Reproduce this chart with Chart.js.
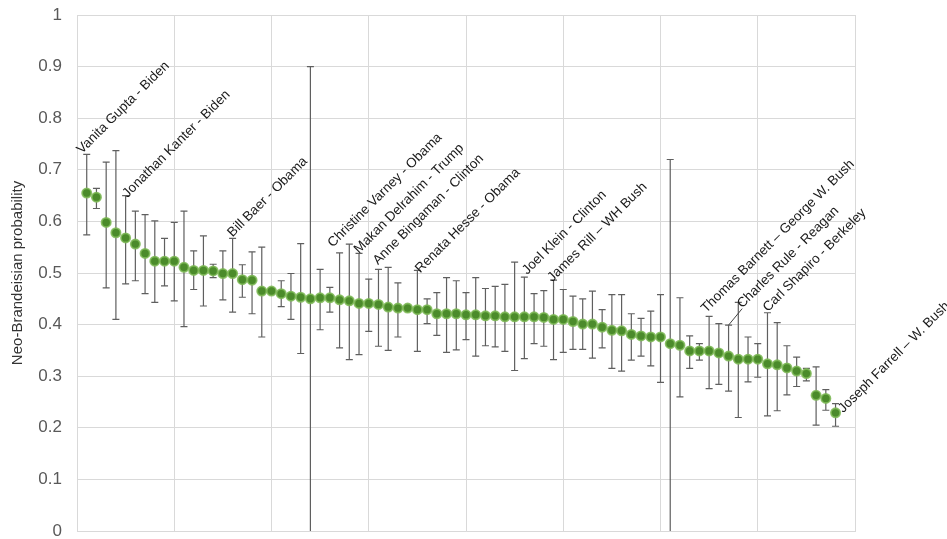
<!DOCTYPE html>
<html>
<head>
<meta charset="utf-8">
<script src="https://cdn.jsdelivr.net/npm/chart.js@4.4.0/dist/chart.umd.min.js"></script>
<style>
  body { margin: 0; background: #fff; }
  #wrap { width: 947px; height: 539px; position: relative; }
</style>
</head>
<body>
<div id="wrap"><canvas id="chart"></canvas></div>
<script>
// значения вероятности (отсортированы по убыванию)
const probValues = [
  0.655, 0.647, 0.598, 0.578, 0.568, 0.556, 0.538, 0.523, 0.523, 0.523,
  0.511, 0.505, 0.505, 0.504, 0.499, 0.499, 0.487, 0.486, 0.465, 0.465,
  0.460, 0.455, 0.453, 0.450, 0.452, 0.452, 0.448, 0.446, 0.441, 0.441,
  0.439, 0.434, 0.432, 0.432, 0.429, 0.429, 0.421, 0.421, 0.421, 0.419,
  0.419, 0.417, 0.417, 0.415, 0.415, 0.415, 0.415, 0.414, 0.410, 0.410,
  0.406, 0.401, 0.401, 0.395, 0.389, 0.388, 0.381, 0.378, 0.376, 0.376,
  0.363, 0.360, 0.349, 0.349, 0.349, 0.345, 0.339, 0.333, 0.333, 0.333,
  0.324, 0.322, 0.316, 0.310, 0.305, 0.263, 0.257, 0.229
];

// верхняя граница планки погрешности
const probUpper = [
  0.730, 0.664, 0.715, 0.737, 0.650, 0.620, 0.613, 0.601, 0.567, 0.598,
  0.620, 0.543, 0.572, 0.517, 0.543, 0.567, 0.516, 0.541, 0.550, 0.465,
  0.485, 0.499, 0.557, 0.900, 0.507, 0.472, 0.539, 0.556, 0.538, 0.488,
  0.507, 0.511, 0.481, 0.432, 0.505, 0.450, 0.462, 0.491, 0.485, 0.462,
  0.491, 0.470, 0.474, 0.478, 0.521, 0.492, 0.460, 0.466, 0.486, 0.468,
  0.455, 0.450, 0.465, 0.429, 0.458, 0.458, 0.421, 0.412, 0.426, 0.458,
  0.720, 0.452, 0.378, 0.363, 0.416, 0.402, 0.399, 0.443, 0.376, 0.363,
  0.423, 0.404, 0.359, 0.337, 0.315, 0.318, 0.274, 0.247
];

// нижняя граница планки погрешности
const probLower = [
  0.574, 0.625, 0.471, 0.410, 0.479, 0.485, 0.460, 0.443, 0.475, 0.446,
  0.396, 0.468, 0.436, 0.491, 0.448, 0.424, 0.453, 0.421, 0.376, 0.465,
  0.435, 0.410, 0.344, 0.000, 0.390, 0.424, 0.355, 0.332, 0.342, 0.387,
  0.358, 0.350, 0.376, 0.432, 0.348, 0.402, 0.379, 0.346, 0.351, 0.371,
  0.339, 0.359, 0.357, 0.348, 0.311, 0.334, 0.363, 0.358, 0.332, 0.346,
  0.352, 0.352, 0.335, 0.355, 0.315, 0.310, 0.331, 0.339, 0.320, 0.288,
  0.000, 0.260, 0.315, 0.331, 0.276, 0.284, 0.271, 0.220, 0.289, 0.298,
  0.223, 0.233, 0.264, 0.280, 0.291, 0.205, 0.234, 0.203
];

const yTickLabels = ['0', '0.1', '0.2', '0.3', '0.4', '0.5', '0.6', '0.7', '0.8', '0.9', '1'];

// подписи к отдельным точкам (начало текста в координатах данных)
const noteNames = [
  'Vanita Gupta - Biden', 'Jonathan Kanter - Biden', 'Bill Baer - Obama',
  'Christine Varney - Obama', 'Makan Delrahim - Trump', 'Anne Bingaman - Clinton',
  'Renata Hesse - Obama', 'Joel Klein - Clinton', 'James Rill \u2013 WH Bush',
  'Thomas Barnett \u2013 George W. Bush', 'Charles Rule - Reagan',
  'Carl Shapiro - Berkeley', 'Joseph Farrell \u2013 W. Bush'
];
const noteX = [0.5, 5.2, 16.0, 26.3, 29.0, 30.95, 35.3, 46.3, 48.9, 64.7, 68.4, 71.05, 78.8];
const noteY = [0.730, 0.645, 0.569, 0.549, 0.537, 0.515, 0.499, 0.496, 0.482, 0.422, 0.431, 0.424, 0.228];

// выноска для Charles Rule: от точки 67 к началу подписи
const leaderFrom = [67, 0.399];
const leaderTo = [68.4, 0.431];

const points = probValues.map((v, i) => ({ x: i + 1, y: v }));

// Планки погрешностей рисуем под точками
const errorBars = {
    id: 'errorBars',
    beforeDatasetsDraw(chart) {
        const { ctx, scales: { x, y } } = chart;
        ctx.save();
        ctx.strokeStyle = '#5f5f5f';
        ctx.lineWidth = 1.2;
        probValues.forEach((v, i) => {
            if (probUpper[i] - probLower[i] < 0.002) return;
            const px = x.getPixelForValue(i + 1);
            const top = y.getPixelForValue(probUpper[i]);
            const bot = y.getPixelForValue(probLower[i]);
            ctx.beginPath();
            ctx.moveTo(px, top);
            ctx.lineTo(px, bot);
            ctx.moveTo(px - 3.5, top);
            ctx.lineTo(px + 3.5, top);
            if (probLower[i] > 0) {
                ctx.moveTo(px - 3.5, bot);
                ctx.lineTo(px + 3.5, bot);
            }
            ctx.stroke();
        });
        ctx.restore();
    }
};

// Наклонные подписи
const notes = {
    id: 'notes',
    afterDatasetsDraw(chart) {
        const { ctx, scales: { x, y } } = chart;
        ctx.save();
        ctx.strokeStyle = '#444';
        ctx.lineWidth = 1;
        ctx.beginPath();
        ctx.moveTo(x.getPixelForValue(leaderFrom[0]), y.getPixelForValue(leaderFrom[1]));
        ctx.lineTo(x.getPixelForValue(leaderTo[0]), y.getPixelForValue(leaderTo[1]));
        ctx.stroke();

        ctx.fillStyle = '#1a1a1a';
        ctx.font = '13.5px "Liberation Sans", Arial, sans-serif';
        ctx.textAlign = 'left';
        ctx.textBaseline = 'alphabetic';
        noteNames.forEach((name, i) => {
            ctx.save();
            ctx.translate(x.getPixelForValue(noteX[i]), y.getPixelForValue(noteY[i]));
            ctx.rotate(-Math.PI / 4);
            ctx.fillText(name, 0, 0);
            ctx.restore();
        });
        ctx.restore();
    }
};

new Chart(document.getElementById('chart'), {
    type: 'scatter',
    data: {
        datasets: [{
            data: points,
            pointRadius: 4.6,
            pointHoverRadius: 4.6,
            pointBackgroundColor: '#4b8b2b',
            pointBorderColor: 'rgba(125, 185, 85, 0.85)',
            pointBorderWidth: 1.8,
        }],
    },
    options: {
        responsive: true,
        maintainAspectRatio: false,
        animation: false,
        layout: { padding: { left: 9, top: 15, right: 92, bottom: 8 } },
        plugins: {
            legend: { display: false },
            tooltip: { enabled: false },
        },
        scales: {
            x: {
                type: 'linear',
                min: 0,
                max: 80,
                afterFit: (scale) => { scale.height = 0; },
                ticks: { stepSize: 10, display: false },
                grid: { color: '#d9d9d9', drawTicks: false },
                border: { color: '#d9d9d9' },
            },
            y: {
                min: 0,
                max: 1,
                afterFit: (scale) => {
                    scale.width = 68;
                    scale.paddingTop = 0;
                    scale.paddingBottom = 0;
                },
                ticks: {
                    stepSize: 0.1,
                    padding: 15,
                    color: '#595959',
                    font: { family: '"Liberation Sans", Arial, sans-serif', size: 17 },
                    callback: (val, idx) => yTickLabels[idx],
                },
                grid: { color: '#d9d9d9', drawTicks: false },
                border: { color: '#d9d9d9' },
                title: {
                    display: true,
                    text: 'Neo-Brandeisian probability',
                    color: '#333',
                    padding: 0,
                    font: { family: '"Liberation Sans", Arial, sans-serif', size: 15 },
                },
            },
        },
    },
    plugins: [errorBars, notes],
});
</script>
</body>
</html>
